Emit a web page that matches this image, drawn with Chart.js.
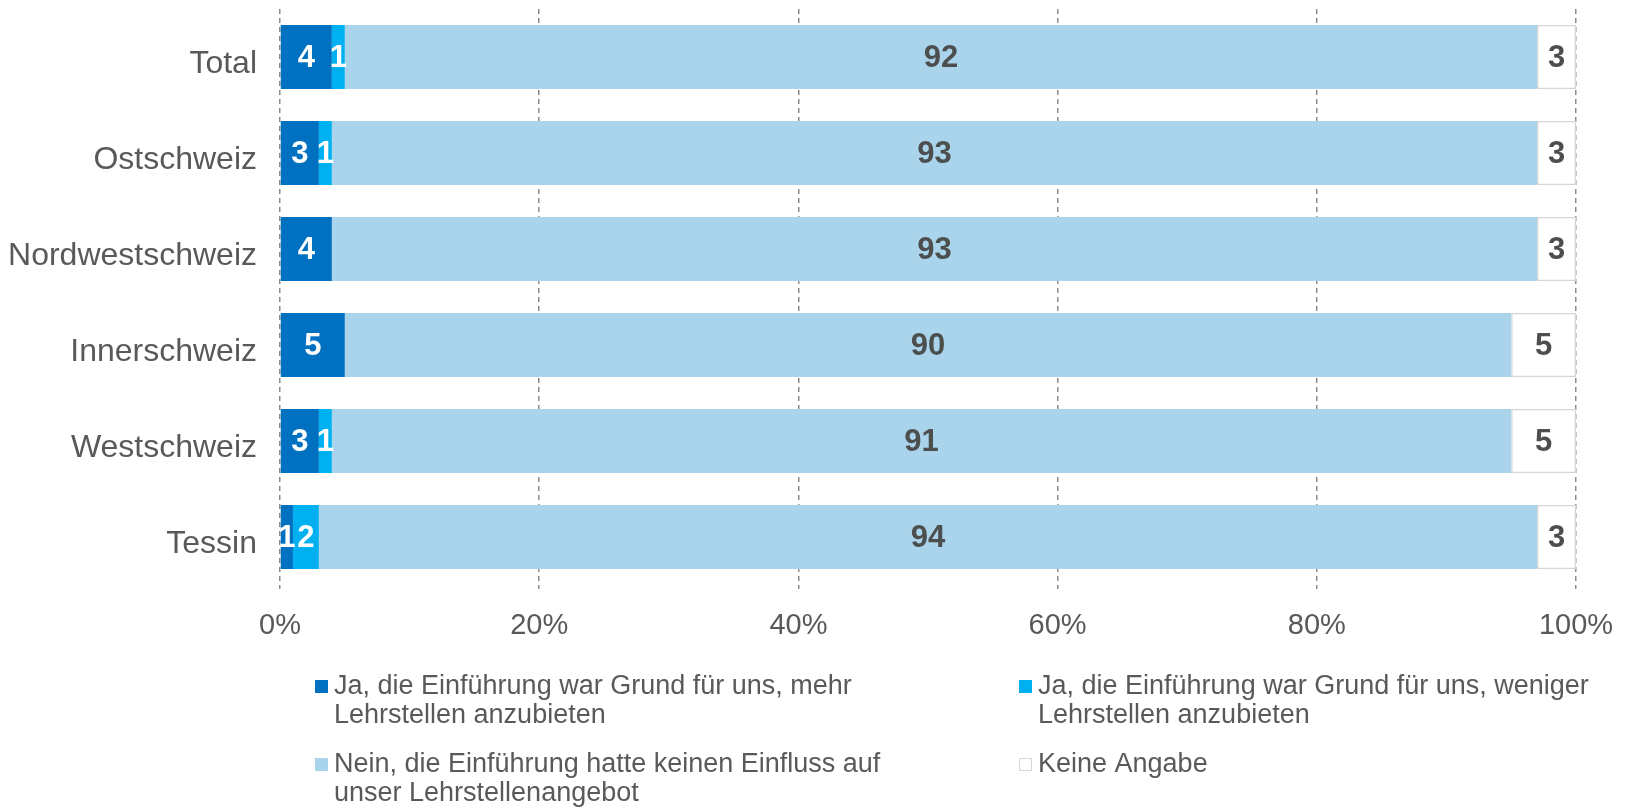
<!DOCTYPE html>
<html>
<head>
<meta charset="utf-8">
<script src="https://cdn.jsdelivr.net/npm/chart.js@4/dist/chart.umd.min.js"></script>
<style>
  body { margin: 0; background: #ffffff; }
  #wrap { width: 1625px; height: 808px; }
</style>
</head>
<body>
<div id="wrap"><canvas id="barChart" width="1625" height="808"></canvas></div>
<script>
// Data

const regions = ['Total', 'Ostschweiz', 'Nordwestschweiz', 'Innerschweiz', 'Westschweiz', 'Tessin'];

const jaMehr = [4, 3, 4, 5, 3, 1];
const jaWeniger = [1, 1, 0, 0, 1, 2];
const neinKeinEinfluss = [92, 93, 93, 90, 91, 94];
const keineAngabe = [3, 3, 3, 5, 5, 3];

const seriesNames = [
  ['Ja, die Einführung war Grund für uns, mehr', 'Lehrstellen anzubieten'],
  ['Ja, die Einführung war Grund für uns, weniger', 'Lehrstellen anzubieten'],
  ['Nein, die Einführung hatte keinen Einfluss auf', 'unser Lehrstellenangebot'],
  ['Keine Angabe'],
];

const xTicks = [0, 20, 40, 60, 80, 100];

const FONT = '"Liberation Sans", Arial, Helvetica, sans-serif';
const GREY_TEXT = '#595959';

// value labels inside the bars
const barValueLabels = {
  id: 'barValueLabels',
  afterDatasetsDraw(chart) {
    const { ctx } = chart;
    ctx.save();
    ctx.font = `bold 31px ${FONT}`;
    ctx.textAlign = 'center';
    ctx.textBaseline = 'middle';
    chart.data.datasets.forEach((ds, i) => {
      const meta = chart.getDatasetMeta(i);
      meta.data.forEach((bar, j) => {
        const v = ds.data[j];
        if (!v) return;
        const { x, y, base } = bar.getProps(['x', 'y', 'base'], true);
        ctx.fillStyle = ds.labelColor;
        ctx.fillText(String(v), (x + base) / 2, y + 1);
      });
    });
    ctx.restore();
  },
};

// two-column legend under the chart
const gridLegend = {
  id: 'gridLegend',
  afterDraw(chart, args, opts) {
    const { ctx } = chart;
    ctx.save();
    ctx.font = `27px ${FONT}`;
    ctx.textBaseline = 'middle';
    ctx.textAlign = 'left';
    chart.data.datasets.forEach((ds, i) => {
      const col = i % 2;
      const row = Math.floor(i / 2);
      const bx = opts.cols[col];
      const by = opts.rows[row];
      ctx.fillStyle = ds.backgroundColor;
      ctx.fillRect(bx, by - 7, 13, 13);
      if (ds.borderWidth) {
        ctx.strokeStyle = ds.borderColor;
        ctx.lineWidth = 1;
        ctx.strokeRect(bx + 0.5, by - 6.5, 12, 12);
      }
      ctx.fillStyle = GREY_TEXT;
      ds.label.forEach((line, k) => {
        ctx.fillText(line, bx + 19, by + k * opts.lineGap);
      });
    });
    ctx.restore();
  },
};

// keep the plot area where the padding puts it
const noScalePadding = (scale) => {
  scale.paddingTop = 0;
  scale.paddingBottom = 0;
  scale.paddingLeft = 0;
  scale.paddingRight = 0;
};

const ctx = document.getElementById('barChart');

new Chart(ctx, {
  type: 'bar',
  data: {
    labels: regions,
    datasets: [
      {
        label: seriesNames[0],
        data: jaMehr,
        backgroundColor: '#0070c0',
        labelColor: '#ffffff',
        borderWidth: 0,
      },
      {
        label: seriesNames[1],
        data: jaWeniger,
        backgroundColor: '#00b0f0',
        labelColor: '#ffffff',
        borderWidth: 0,
      },
      {
        label: seriesNames[2],
        data: neinKeinEinfluss,
        backgroundColor: '#a9d4eb',
        labelColor: '#4d4f4f',
        borderWidth: 0,
      },
      {
        label: seriesNames[3],
        data: keineAngabe,
        backgroundColor: '#ffffff',
        borderColor: '#d6d6d6',
        borderWidth: 1.5,
        borderSkipped: false,
        labelColor: '#4d4f4f',
      },
    ],
  },
  options: {
    indexAxis: 'y',
    responsive: false,
    animation: false,
    categoryPercentage: 1,
    barPercentage: 0.667,
    layout: {
      autoPadding: false,
      padding: { top: 9, right: 49, bottom: 150, left: 0 },
    },
    plugins: {
      legend: { display: false },
      tooltip: { enabled: false },
      gridLegend: {
        cols: [315, 1019],
        rows: [687, 765],
        lineGap: 29,
      },
    },
    scales: {
      x: {
        stacked: true,
        min: 0,
        max: 100,
        afterBuildTicks: (scale) => {
          scale.ticks = xTicks.map((v) => ({ value: v }));
        },
        afterFit: (scale) => {
          scale.height = 73;
          noScalePadding(scale);
        },
        ticks: {
          color: GREY_TEXT,
          font: { family: FONT, size: 29 },
          padding: 20,
          maxRotation: 0,
          callback: (v) => v + '%',
        },
        grid: {
          color: '#8c8c8c',
          lineWidth: 1.5,
          tickLength: 4,
          drawTicks: true,
        },
        border: {
          display: false,
          dash: [5, 4],
        },
      },
      y: {
        stacked: true,
        afterFit: (scale) => {
          scale.width = 280;
          noScalePadding(scale);
        },
        ticks: {
          color: GREY_TEXT,
          font: { family: FONT, size: 32 },
          padding: 23,
          labelOffset: 7,
        },
        grid: {
          display: false,
          drawTicks: false,
        },
        border: {
          display: false,
        },
      },
    },
  },
  plugins: [barValueLabels, gridLegend],
});
</script>
</body>
</html>
